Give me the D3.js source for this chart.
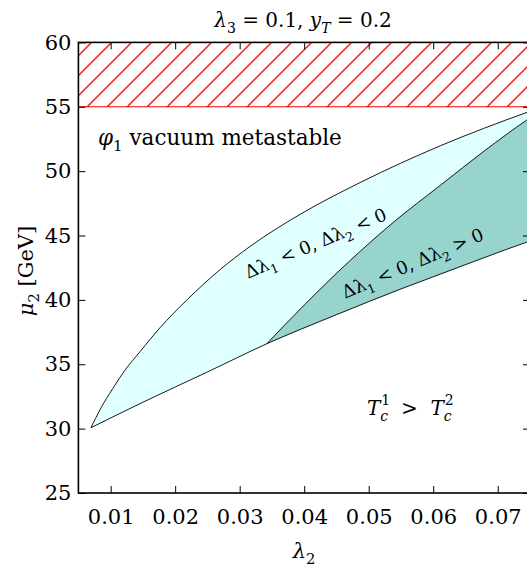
<!DOCTYPE html>
<html><head><meta charset="utf-8">
<script src="https://cdn.jsdelivr.net/npm/d3@7"></script>
<style>body{margin:0;background:#fff}svg{display:block}</style>
</head><body><div id="chart"></div>
<script>
// ---- data ----
const xTicks = [0.01, 0.02, 0.03, 0.04, 0.05, 0.06, 0.07];
const yTicks = [25, 30, 35, 40, 45, 50, 55, 60];
const xDomain = [0.005, 0.075];
const yDomain = [25, 60];
// upper edge of the first-order region (lambda2, mu2)
const upperEdge = [[0.00695,30.07],[0.00835,31.47],[0.01036,33.14],[0.01222,34.54],[0.01455,35.98],[0.01765,37.84],[0.02183,40.0],[0.02698,42.36],[0.0316,44.15],[0.03935,46.64],[0.04865,49.11],[0.0611,51.97],[0.07454,54.57],[0.0758,54.8]];
// lower edge
const lowerEdge = [[0.00695,30.07],[0.015,32.05],[0.025,34.4],[0.0342,36.59],[0.045,38.85],[0.055,40.85],[0.0611,42.0],[0.068,43.3],[0.0746,44.5],[0.0758,44.7]];
// divider between dl2<0 and dl2>0
const dividerEdge = [[0.0342,36.59],[0.040,39.6],[0.047,43.0],[0.054,46.1],[0.0611,48.9],[0.068,51.6],[0.0746,54.0],[0.0758,54.4]];
const excludedBand = [55, 60];

const W = 527, H = 567;
const x = d3.scaleLinear().domain(xDomain).range([78.4, 530]);
const y = d3.scaleLinear().domain(yDomain).range([493, 42.4]);
const FONT = "'DejaVu Serif', 'Liberation Serif', serif";

const svg = d3.select("#chart").append("svg").attr("width", W).attr("height", H)
  .style("font-family", FONT);
const defs = svg.append("defs");
defs.append("clipPath").attr("id", "clip").append("rect")
  .attr("x", x(xDomain[0])).attr("y", y(yDomain[1]))
  .attr("width", x(xDomain[1]) - x(xDomain[0])).attr("height", y(yDomain[0]) - y(yDomain[1]));
const bx0 = x(xDomain[0]), bx1 = x(xDomain[1]), by0 = y(excludedBand[1]), by1 = y(excludedBand[0]);
defs.append("clipPath").attr("id", "bandClip").append("rect")
  .attr("x", bx0).attr("y", by0).attr("width", bx1 - bx0).attr("height", by1 - by0);

const plot = svg.append("g").attr("clip-path", "url(#clip)");

// hatched excluded band (45-degree red hatch lines, 20px apart)
const hatch = plot.append("g").attr("clip-path", "url(#bandClip)");
const hatchOffsets = d3.range(14 + 20 * Math.floor((bx0 + by0 - 14) / 20), bx1 + by1 + 20, 20);
hatch.selectAll("line").data(hatchOffsets).join("line")
  .attr("x1", c => c - by1 - 2).attr("y1", by1 + 2)
  .attr("x2", c => c - by0 + 2).attr("y2", by0 - 2)
  .attr("stroke", "#ff1010").attr("stroke-width", 1.4);
plot.append("line").attr("x1", bx0).attr("x2", bx1).attr("y1", by1).attr("y2", by1)
  .attr("stroke", "#ff0000").attr("stroke-width", 1.2);

const line = d3.line().x(d => x(d[0])).y(d => y(d[1])).curve(d3.curveMonotoneX);

const kink = dividerEdge[0][0];
function pathFromEdges(a, b) {
  const pa = line(a);
  const pb = line(b.slice().reverse());
  return pa + "L" + pb.slice(1) + "Z";
}
plot.append("path").attr("d", pathFromEdges(upperEdge, lowerEdge))
  .attr("fill", "#e0ffff").attr("stroke", "none");
const lowerRight = lowerEdge.filter(d => d[0] >= kink);
plot.append("path").attr("d", pathFromEdges(dividerEdge, lowerRight))
  .attr("fill", "#97d4ce").attr("stroke", "none");
[upperEdge, lowerEdge, dividerEdge].forEach(e => {
  plot.append("path").attr("d", line(e)).attr("fill", "none")
    .attr("stroke", "#000").attr("stroke-width", 0.9);
});

// axes
const axB = svg.append("g").attr("transform", `translate(0,${y(yDomain[0])})`)
  .call(d3.axisBottom(x).tickValues(xTicks).tickSizeInner(-7).tickSizeOuter(0).tickPadding(16).tickFormat(d3.format(".2f")));
const axT = svg.append("g").attr("transform", `translate(0,${y(yDomain[1])})`)
  .call(d3.axisTop(x).tickValues(xTicks).tickSizeInner(-7).tickSizeOuter(0).tickFormat(""));
const axL = svg.append("g").attr("transform", `translate(${x(xDomain[0])},0)`)
  .call(d3.axisLeft(y).tickValues(yTicks).tickSizeInner(-7).tickSizeOuter(0).tickPadding(7).tickFormat(d3.format("d")));
const axR = svg.append("g").attr("transform", `translate(${x(xDomain[1])},0)`)
  .call(d3.axisRight(y).tickValues(yTicks).tickSizeInner(-7).tickSizeOuter(0).tickFormat(""));
[axB, axT, axL, axR].forEach(a => {
  a.select(".domain").remove();
  a.selectAll(".tick line").attr("stroke", "#000").attr("stroke-width", 1);
  a.selectAll(".tick text").attr("fill", "#000").style("font-family", FONT).style("font-size", "21px");
});
// frame
svg.append("rect").attr("x", x(xDomain[0])).attr("y", y(yDomain[1]))
  .attr("width", x(xDomain[1]) - x(xDomain[0])).attr("height", y(yDomain[0]) - y(yDomain[1]))
  .attr("fill", "none").attr("stroke", "#000").attr("stroke-width", 1.6);

// math text helper: parts = [[text, style, dx]] style: '', 'i', 'sub', 'isub', 'sup', 'isup'
function mathText(parent, px, py, size, parts, anchor, rotate) {
  const t = parent.append("text").attr("x", px).attr("y", py)
    .attr("text-anchor", anchor || "start").style("font-size", size + "px").attr("fill", "#000")
    .style("white-space", "pre");
  if (rotate) t.attr("transform", `rotate(${rotate},${px},${py})`);
  let cur = 0;
  parts.forEach(([s, st, dx]) => {
    let shift = 0, fs = size;
    if (st.includes("sub")) { shift = 0.3 * size; fs = size * 0.7; }
    if (st.includes("sup")) { shift = -0.48 * size; fs = size * 0.7; }
    const ts = t.append("tspan").text(s).style("font-size", fs + "px")
      .style("font-style", st.startsWith("i") ? "italic" : "normal");
    if (shift !== cur) { ts.attr("dy", shift - cur); cur = shift; }
    if (dx) ts.attr("dx", dx);
  });
  return t;
}

// title
mathText(svg, 303, 27, 20, [["λ", "i"], ["3", "sub"], [" = 0.1, ", ""], ["y", "i"], ["T", "isub"], [" = 0.2", ""]], "middle");
// axis labels
mathText(svg, 304, 558, 21, [["λ", "i"], ["2", "sub"]], "middle");
mathText(svg, 33, 271, 21, [["μ", "i"], ["2", "sub"], [" [GeV]", ""]], "middle", -90);
// annotations
mathText(svg, 98, 145, 21.5, [["φ", "i"], ["1", "sub"], [" vacuum metastable", ""]], "start");
mathText(svg, 318, 249, 18, [["Δλ", ""], ["1", "sub"], [" < 0, Δλ", ""], ["2", "sub"], [" < 0", ""]], "middle", -23);
mathText(svg, 415, 269, 18, [["Δλ", ""], ["1", "sub"], [" < 0, Δλ", ""], ["2", "sub"], [" > 0", ""]], "middle", -23);
// T_c^1 > T_c^2 : superscript then subscript stacked under it
const supW = 0.636 * 14;
mathText(svg, 367, 415, 20, [["T", "i"], ["1", "sup", 1], ["c", "isub", -supW - 1], ["  >  ", ""], ["T", "i"], ["2", "sup", 1], ["c", "isub", -supW - 1]], "start");
</script>
</body></html>
